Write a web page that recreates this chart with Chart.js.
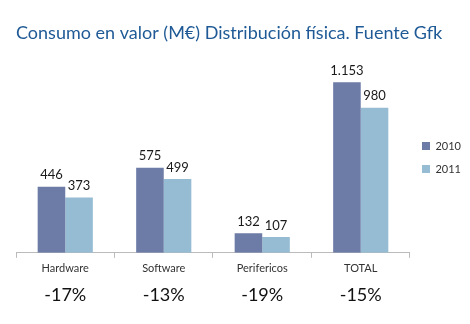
<!DOCTYPE html>
<html>
<head>
<meta charset="utf-8">
<script src="https://cdn.jsdelivr.net/npm/chart.js@4"></script>
<style>
  html, body { margin: 0; padding: 0; background: #fff; }
  #container { width: 470px; height: 324px; }
</style>
</head>
<body>
<div id="container"><canvas id="canvas" width="470" height="324"></canvas></div>
<script>
var categorias = ['Hardware', 'Software', 'Perifericos', 'TOTAL'];
var valores2010 = [446, 575, 132, 1153];
var valores2011 = [373, 499, 107, 980];
var variacion = ['-17%', '-13%', '-19%', '-15%'];

var fuente = 'Lato, "Open Sans", sans-serif';

// número con punto de miles (1.153)
function formato(v){
    return String(v).replace(/\B(?=(\d{3})+(?!\d))/g, '.');
}

// etiquetas encima de las barras y porcentajes bajo cada categoría
var etiquetas = {
    id: 'etiquetas',
    afterDatasetsDraw: function(chart){
        var ctx = chart.ctx;
        ctx.save();
        ctx.fillStyle = '#1a1a1a';
        ctx.font = '13px ' + fuente;
        ctx.textAlign = 'center';
        ctx.textBaseline = 'bottom';
        chart.data.datasets.forEach(function(ds, i){
            chart.getDatasetMeta(i).data.forEach(function(bar, j){
                ctx.fillText(formato(ds.data[j]), bar.x, bar.y - 5);
            });
        });
        var x = chart.scales.x;
        ctx.font = '18px ' + fuente;
        ctx.fillStyle = '#111';
        ctx.textBaseline = 'middle';
        variacion.forEach(function(t, j){
            ctx.fillText(t, x.getPixelForValue(j), x.top + 42);
        });
        ctx.restore();
    }
};

var config = {
    type: 'bar',
    data: {
        labels: categorias,
        datasets: [{
            label: '2010',
            data: valores2010,
            backgroundColor: '#6d7ba7'
        }, {
            label: '2011',
            data: valores2011,
            backgroundColor: '#95bcd3'
        }]
    },
    options: {
        responsive: false,
        animation: false,
        categoryPercentage: 0.56,
        barPercentage: 1,
        layout: {
            padding: { left: 16, right: -1, top: 0, bottom: 45 }
        },
        scales: {
            x: {
                offset: true,
                grid: {
                    offset: true,
                    drawOnChartArea: false,
                    tickLength: 5,
                    color: '#bbb'
                },
                border: { color: '#bbb' },
                ticks: {
                    color: '#333',
                    font: { family: fuente, size: 11 },
                    padding: 4
                }
            },
            y: {
                display: false,
                min: 0,
                max: 1400
            }
        },
        plugins: {
            title: {
                display: true,
                text: 'Consumo en valor (M€) Distribución física. Fuente Gfk',
                align: 'start',
                color: '#1f5a96',
                font: { family: fuente, size: 18, weight: 'normal' },
                padding: { top: 22, bottom: 2 }
            },
            legend: {
                position: 'right',
                title: {
                    display: true,
                    text: ' ',
                    font: { size: 10 },
                    padding: { top: 24, bottom: 0 }
                },
                labels: {
                    boxWidth: 8,
                    boxHeight: 8,
                    padding: 12,
                    color: '#333',
                    font: { family: fuente, size: 11 }
                }
            },
            tooltip: { enabled: false }
        }
    },
    plugins: [etiquetas]
};

var context = document.getElementById('canvas').getContext('2d');
window.myBar = new Chart(context, config);
</script>
</body>
</html>
